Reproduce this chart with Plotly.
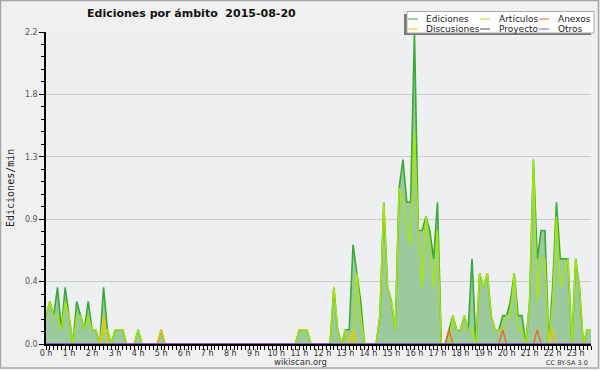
import plotly.graph_objects as go

# ---------------- data (edits per minute, 10-minute bins) ----------------
bins_per_hour = 6
hour_labels = [f"{h} h" for h in range(24)]
ytick_vals = [0, 0.44, 0.88, 1.32, 1.76, 2.2]
ytick_text = ["0.0", "0.4", "0.9", "1.3", "1.8", "2.2"]

ediciones = [
    0.2, 0.3, 0.2, 0.4, 0.1, 0.4, 0.2, 0.0, 0.3, 0.2, 0.1, 0.3,
    0.1, 0.1, 0.0, 0.4, 0.1, 0.0, 0.1, 0.1, 0.1, 0.0, 0.0, 0.0,
    0.1, 0.0, 0.0, 0.0, 0.0, 0.0, 0.1, 0.0, 0.0, 0.0, 0.0, 0.0,
    0.0, 0.0, 0.0, 0.0, 0.0, 0.0, 0.0, 0.0, 0.0, 0.0, 0.0, 0.0,
    0.0, 0.0, 0.0, 0.0, 0.0, 0.0, 0.0, 0.0, 0.0, 0.0, 0.0, 0.0,
    0.0, 0.0, 0.0, 0.0, 0.0, 0.0, 0.1, 0.1, 0.1, 0.0, 0.0, 0.0,
    0.0, 0.0, 0.0, 0.4, 0.1, 0.0, 0.1, 0.1, 0.7, 0.5, 0.3, 0.0,
    0.0, 0.0, 0.0, 0.2, 1.0, 0.4, 0.3, 0.1, 1.1, 1.3, 1.0, 1.0,
    2.2, 0.8, 0.8, 0.9, 0.8, 0.6, 1.0, 0.0, 0.0, 0.1, 0.2, 0.1,
    0.1, 0.2, 0.1, 0.6, 0.0, 0.5, 0.4, 0.5, 0.2, 0.1, 0.1, 0.2,
    0.2, 0.3, 0.5, 0.2, 0.2, 0.0, 0.3, 1.3, 0.6, 0.8, 0.8, 0.0,
    0.4, 1.0, 0.6, 0.6, 0.6, 0.0, 0.6, 0.4, 0.0, 0.1, 0.1,
]
articulos = [
    0.2, 0.3, 0.2, 0.2, 0.1, 0.3, 0.2, 0.0, 0.2, 0.2, 0.1, 0.2,
    0.1, 0.1, 0.0, 0.1, 0.1, 0.0, 0.1, 0.1, 0.1, 0.0, 0.0, 0.0,
    0.1, 0.0, 0.0, 0.0, 0.0, 0.0, 0.0, 0.0, 0.0, 0.0, 0.0, 0.0,
    0.0, 0.0, 0.0, 0.0, 0.0, 0.0, 0.0, 0.0, 0.0, 0.0, 0.0, 0.0,
    0.0, 0.0, 0.0, 0.0, 0.0, 0.0, 0.0, 0.0, 0.0, 0.0, 0.0, 0.0,
    0.0, 0.0, 0.0, 0.0, 0.0, 0.0, 0.1, 0.1, 0.1, 0.0, 0.0, 0.0,
    0.0, 0.0, 0.0, 0.4, 0.1, 0.0, 0.1, 0.0, 0.0, 0.5, 0.2, 0.0,
    0.0, 0.0, 0.0, 0.2, 1.0, 0.4, 0.3, 0.1, 1.1, 1.0, 0.8, 0.7,
    1.5, 0.8, 0.4, 0.9, 0.7, 0.4, 0.8, 0.0, 0.0, 0.0, 0.2, 0.1,
    0.1, 0.2, 0.1, 0.1, 0.0, 0.5, 0.4, 0.5, 0.2, 0.1, 0.1, 0.1,
    0.2, 0.2, 0.5, 0.1, 0.1, 0.0, 0.3, 1.3, 0.3, 0.6, 0.6, 0.0,
    0.3, 0.9, 0.4, 0.5, 0.6, 0.0, 0.6, 0.4, 0.0, 0.1, 0.1,
]
anexos = [
    0, 0, 0, 0, 0, 0, 0, 0, 0, 0, 0, 0,
    0, 0, 0, 0, 0, 0, 0, 0, 0, 0, 0, 0,
    0, 0, 0, 0, 0, 0, 0, 0, 0, 0, 0, 0,
    0, 0, 0, 0, 0, 0, 0, 0, 0, 0, 0, 0,
    0, 0, 0, 0, 0, 0, 0, 0, 0, 0, 0, 0,
    0, 0, 0, 0, 0, 0, 0, 0, 0, 0, 0, 0,
    0, 0, 0, 0, 0, 0, 0, 0, 0, 0, 0, 0,
    0, 0, 0, 0, 0, 0, 0, 0, 0, 0, 0, 0,
    0, 0, 0, 0, 0, 0, 0, 0, 0, 0.1, 0, 0,
    0, 0, 0, 0, 0, 0, 0, 0, 0, 0, 0, 0.1,
    0, 0, 0, 0, 0, 0, 0, 0, 0.1, 0, 0, 0,
    0, 0, 0, 0, 0, 0, 0, 0, 0, 0, 0,
]
discusiones = [
    0, 0, 0, 0, 0, 0, 0, 0, 0, 0, 0, 0,
    0, 0, 0, 0.2, 0, 0, 0, 0, 0, 0, 0, 0,
    0, 0, 0, 0, 0, 0, 0.1, 0, 0, 0, 0, 0,
    0, 0, 0, 0, 0, 0, 0, 0, 0, 0, 0, 0,
    0, 0, 0, 0, 0, 0, 0, 0, 0, 0, 0, 0,
    0, 0, 0, 0, 0, 0, 0, 0, 0, 0, 0, 0,
    0, 0, 0, 0, 0, 0, 0, 0, 0.1, 0, 0, 0,
    0, 0, 0, 0, 0, 0, 0, 0, 0, 0, 0, 0,
    0, 0, 0, 0, 0, 0, 0, 0, 0, 0, 0, 0,
    0, 0, 0, 0, 0, 0, 0, 0, 0, 0, 0, 0,
    0, 0, 0, 0, 0, 0, 0, 0, 0, 0, 0, 0,
    0.1, 0, 0, 0, 0, 0, 0, 0, 0, 0, 0,
]
proyecto = [
    0, 0, 0, 0, 0, 0, 0, 0, 0, 0, 0, 0,
    0, 0, 0, 0, 0, 0, 0, 0, 0, 0, 0, 0,
    0, 0, 0, 0, 0, 0, 0, 0, 0, 0, 0, 0,
    0, 0, 0, 0, 0, 0, 0, 0, 0, 0, 0, 0,
    0, 0, 0, 0, 0, 0, 0, 0, 0, 0, 0, 0,
    0, 0, 0, 0, 0, 0, 0, 0, 0, 0, 0, 0,
    0, 0, 0, 0, 0, 0, 0, 0, 0, 0, 0, 0,
    0, 0, 0, 0, 0, 0, 0, 0, 0, 0, 0, 0,
    0, 0, 0, 0, 0, 0, 0, 0, 0, 0, 0, 0,
    0, 0, 0, 0, 0, 0, 0, 0, 0, 0, 0, 0,
    0, 0, 0, 0, 0, 0, 0, 0, 0, 0, 0, 0,
    0, 0, 0, 0, 0, 0, 0, 0, 0, 0, 0,
]
otros = list(proyecto)

series_names = ["Ediciones", "Artículos", "Anexos", "Discusiones", "Proyecto", "Otros"]
series_colors = ["#38aa38", "#a8e800", "#ee6a22", "#f5c400", "#555555", "#9b4de8"]
series_values = [ediciones, articulos, anexos, discusiones, proyecto, otros]

x_hours = [i / bins_per_hour for i in range(len(ediciones))]

# ---------------- geometry helpers ----------------
W, H = 600, 370
ML, MR, MT, MB = 46, 9, 32, 26
PW, PH = W - ML - MR, H - MT - MB


def px(xpix):
    return (xpix - ML) / PW


def py(ypix):
    return (H - MB - ypix) / PH


fig = go.Figure()
for name, color, vals in zip(series_names, series_colors, series_values):
    kw = {}
    if name == "Ediciones":
        kw = dict(fill="tozeroy", fillcolor="#9dca9d")
    fig.add_trace(go.Scatter(
        x=x_hours, y=vals, mode="lines", name=name,
        line=dict(color=color, width=1.6 if name == "Ediciones" else 1.4),
        showlegend=False, hoverinfo="x+y+name", **kw))

fig.update_layout(
    width=W, height=H,
    margin=dict(l=ML, r=MR, t=MT, b=MB, pad=0),
    paper_bgcolor="#f0f0f0", plot_bgcolor="#eeeff1",
    showlegend=False,
    font=dict(family="DejaVu Sans", size=8, color="#333333"),
)
fig.update_xaxes(
    range=[0, (len(ediciones) - 1) / bins_per_hour],
    tickmode="array", tickvals=list(range(24)), ticktext=hour_labels,
    ticks="outside", ticklen=4, tickcolor="black", tickwidth=1,
    ticklabelstandoff=-4,
    showline=True, linecolor="black", linewidth=2,
    showgrid=False, zeroline=False,
    tickfont=dict(family="DejaVu Sans", size=8, color="#333333"),
    minor=dict(tickmode="linear", tick0=0, dtick=1 / bins_per_hour,
               ticks="outside", ticklen=4, tickcolor="black", showgrid=False),
)
fig.update_yaxes(
    range=[0, 2.2],
    tickmode="array", tickvals=ytick_vals, ticktext=ytick_text,
    ticks="outside", ticklen=5, tickcolor="black", tickwidth=1,
    showline=True, linecolor="black", linewidth=1.5,
    showgrid=True, gridcolor="#cccccc", gridwidth=1, zeroline=False,
    tickfont=dict(family="DejaVu Sans", size=8, color="#555555"),
    minor=dict(tickmode="linear", tick0=0, dtick=0.088,
               ticks="outside", ticklen=3, tickcolor="black", showgrid=False),
)

shapes = []
annotations = []

# outer border
shapes.append(dict(type="rect", xref="paper", yref="paper",
                   x0=px(0.5), x1=px(598.5), y0=py(0.5), y1=py(368),
                   line=dict(color="#a6a6a6", width=1.5), fillcolor="rgba(0,0,0,0)", layer="above"))

# title
annotations.append(dict(text="Ediciones por ámbito  2015-08-20", xref="paper", yref="paper",
                        x=px(85), y=py(14), xanchor="left", yanchor="middle", showarrow=False,
                        font=dict(family="DejaVu Sans", size=11, color="#111111", weight="bold")))
# y title
annotations.append(dict(text="Ediciones/min", xref="paper", yref="paper",
                        x=px(10), y=py(188), xanchor="center", yanchor="middle", showarrow=False,
                        textangle=-90, font=dict(family="DejaVu Sans Mono", size=10, color="#222222")))
# footer
annotations.append(dict(text="wikiscan.org", xref="paper", yref="paper",
                        x=px(300), y=py(362), xanchor="center", yanchor="middle", showarrow=False,
                        font=dict(family="DejaVu Sans", size=8.5, color="#333333")))
annotations.append(dict(text="CC BY-SA 3.0", xref="paper", yref="paper",
                        x=px(590), y=py(363), xanchor="right", yanchor="middle", showarrow=False,
                        font=dict(family="DejaVu Sans", size=6.5, color="#333333")))

# legend box (shadow + box)
shapes.append(dict(type="rect", xref="paper", yref="paper",
                   x0=px(404), x1=px(591), y0=py(35), y1=py(14),
                   line=dict(width=0), fillcolor="#777777", layer="above"))
shapes.append(dict(type="rect", xref="paper", yref="paper",
                   x0=px(407), x1=px(594), y0=py(33), y1=py(11.5),
                   line=dict(color="#aaaaaa", width=1), fillcolor="white", layer="above"))

legend_cols = [408, 480, 539]
legend_text_x = [424, 497, 556]
legend_rows = [19, 29]
legend_order = [0, 1, 2, 3, 4, 5]
for k, s in enumerate(legend_order):
    r, c = divmod(k, 3)
    yy = legend_rows[r]
    shapes.append(dict(type="line", xref="paper", yref="paper",
                       x0=px(legend_cols[c]), x1=px(legend_cols[c] + 10), y0=py(yy), y1=py(yy),
                       line=dict(color=series_colors[s], width=1), layer="above"))
    annotations.append(dict(text=series_names[s], xref="paper", yref="paper",
                            x=px(legend_text_x[c]), y=py(yy), xanchor="left", yanchor="middle",
                            showarrow=False,
                            font=dict(family="DejaVu Sans", size=9, color="#222222")))

fig.update_layout(shapes=shapes, annotations=annotations)
fig.write_html(
    "out.html",
    config={"displayModeBar": False},
    post_script="document.body.style.margin='0';document.body.style.overflow='hidden';",
)
